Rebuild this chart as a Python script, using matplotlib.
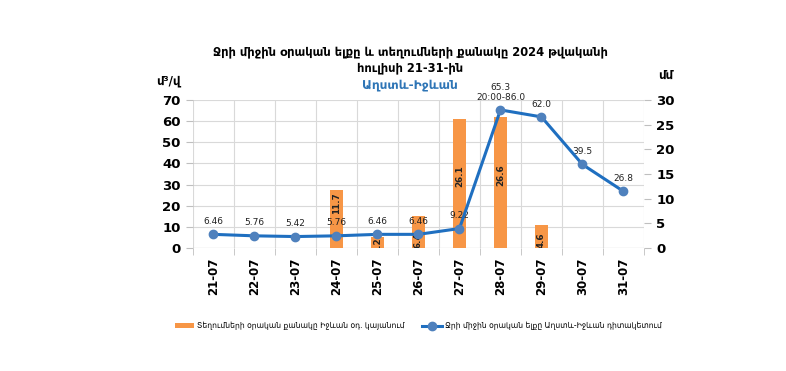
import matplotlib
matplotlib.use("Agg")
import matplotlib.pyplot as plt
import numpy as np

plt.rcParams['font.family'] = ['DejaVu Sans']

dates = ['21-07', '22-07', '23-07', '24-07', '25-07', '26-07',
         '27-07', '28-07', '29-07', '30-07', '31-07']
flow = [6.46, 5.76, 5.42, 5.76, 6.46, 6.46, 9.22, 65.3, 62.0, 39.5, 26.8]
flow_labels = ['6.46', '5.76', '5.42', '5.76', '6.46', '6.46', '9.22',
               '65.3\n20:00-86.0', '62.0', '39.5', '26.8']
rain = [0, 0, 0, 11.7, 2.2, 6.4, 26.1, 26.6, 4.6, 0, 0]

title = "Ջրի միջին օրական ելքը և տեղումների քանակը 2024 թվականի\nհուլիսի 21-31-ին"
subtitle = "Աղստև-Իջևան"
bar_name = "Տեղումների օրական քանակը Իջևան օդ. կայանում"
line_name = "Ջրի միջին օրական ելքը Աղստև-Իջևան դիտակետում"

orange = '#F79646'
blue = '#1F6FC0'
x = np.arange(len(dates))

fig = plt.figure(figsize=(7.86, 3.71), dpi=100)
# base axes: left scale, grid, x ticks
ax = fig.add_axes([0.2455, 0.3315, 0.5738, 0.399])
# bars on right scale
ax2 = ax.twinx()
# line on left scale, drawn on top
ax3 = ax.twinx()
ax.set_zorder(0)
ax2.set_zorder(1)
ax3.set_zorder(2)
ax2.patch.set_visible(False)
ax3.patch.set_visible(False)

# bars (precipitation, right axis)
bar_x = [i for i, v in enumerate(rain) if v > 0]
bar_v = [rain[i] for i in bar_x]
bars = ax2.bar(bar_x, bar_v, width=0.32, color=orange, zorder=2)
for bx, bv in zip(bar_x, bar_v):
    if bv >= 20:
        ypos, va = bv / 2 + 1.5, 'center'
    elif bv >= 10:
        ypos, va = bv - 0.5, 'top'
    else:
        ypos, va = min(bv, 3.2), 'top'
    ax2.text(bx, ypos, f"{bv:.1f}", rotation=90, ha='center', va=va,
             fontsize=6.3, fontweight='bold', color='#222222', zorder=3,
             clip_on=True)

# line (flow, left scale)
line, = ax3.plot(x, flow, color=blue, lw=2.2, marker='o', markersize=6,
                 markerfacecolor='#4F81BD', markeredgecolor='#4F81BD', zorder=4)
for xi, yi, lab in zip(x, flow, flow_labels):
    ax3.annotate(lab, (xi, yi), xytext=(0, 6), textcoords='offset points',
                 ha='center', va='bottom', fontsize=6.5, color='#222222',
                 linespacing=1.1)

ax.set_xlim(-0.5, len(dates) - 0.5)
ax.set_ylim(0, 70)
ax3.set_ylim(0, 70)
ax2.set_ylim(0, 30)
ax.set_yticks(range(0, 71, 10))
ax2.set_yticks(range(0, 31, 5))
ax3.set_yticks([])

ax.set_xticks(x)
ax.set_xticklabels(dates, rotation=90, fontsize=8.5, fontweight='bold')
ax.tick_params(axis='x', length=0, pad=7)
ax.set_xticks(np.arange(-0.5, len(dates), 1), minor=True)
ax.tick_params(axis='x', which='minor', length=5, color='#BFBFBF')
ax.grid(True, which='minor', axis='x', color='#D9D9D9', lw=0.8)
ax.grid(True, which='major', axis='y', color='#D9D9D9', lw=0.8)
ax.set_axisbelow(True)

for a in (ax, ax2, ax3):
    for s in a.spines.values():
        s.set_visible(False)
ax.tick_params(axis='y', length=5, color='#BFBFBF', labelsize=9.5, pad=4)
ax2.tick_params(axis='y', length=5, color='#BFBFBF', labelsize=9.5, pad=4)
for lab in ax.get_yticklabels() + ax2.get_yticklabels():
    lab.set_fontweight('bold')
ax.axhline(0, color='#BFBFBF', lw=0.8)

fig.text(0.522, 0.838, title, ha='center', va='center', fontsize=8.3,
         fontweight='bold', linespacing=1.25)
fig.text(0.522, 0.772, subtitle, ha='center', va='center', fontsize=8.7,
         fontweight='bold', color='#2E75B6')
fig.text(0.214, 0.782, "մ³/վ", ha='center', va='center', fontsize=8.5,
         fontweight='bold')
fig.text(0.847, 0.797, "մմ", ha='center', va='center', fontsize=8.5,
         fontweight='bold')

fig.legend([bars, line], [bar_name, line_name], loc='center',
           bbox_to_anchor=(0.532, 0.122), ncol=2, frameon=False,
           fontsize=5.5, handlelength=2.6, columnspacing=2.2,
           handletextpad=0.4)

fig.savefig('out.png', dpi=100)
